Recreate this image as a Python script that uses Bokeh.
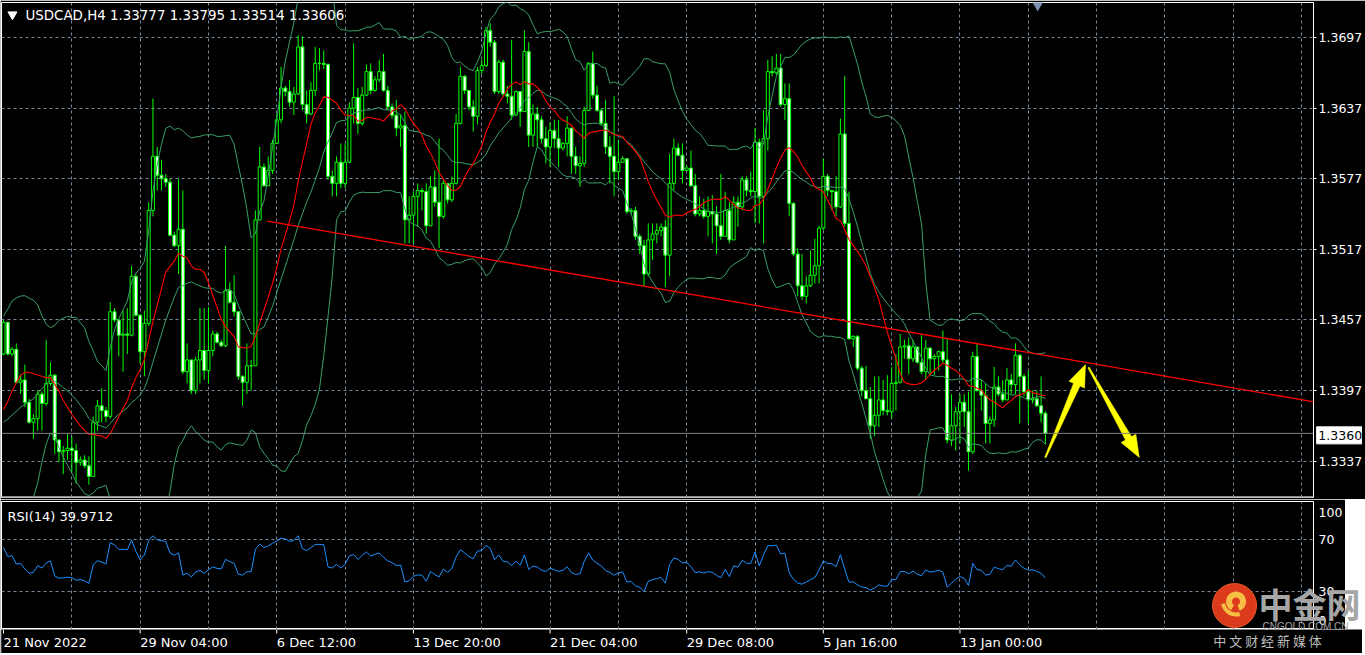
import math
import numpy as np
from bokeh.plotting import figure
from bokeh.models import (FixedTicker, PrintfTickFormatter, Span, Label, Grid,
                          ColumnDataSource, GridBox)
from bokeh.core.properties import value
from bokeh.embed import file_html
from bokeh.resources import INLINE

# ---------------- texts ----------------
title_text = "USDCAD,H4  1.33777 1.33795 1.33514 1.33606"
rsi_text = "RSI(14) 39.9712"
bid_price = 1.33606
bid_label = "1.3360"

price_ticks = [1.3337, 1.3397, 1.3457, 1.3517, 1.3577, 1.3637, 1.3697]
rsi_label_pos = [7.0, 30.0, 70.0, 91.4]          # where MT4 writes the scale labels
rsi_label_txt = ["0", "30", "70", "100"]
rsi_levels = [30, 70]
time_ticks = [0, 32, 64, 96, 128, 160, 192, 224]
time_labels = ["21 Nov 2022", "29 Nov 04:00", "6 Dec 12:00", "13 Dec 20:00",
               "21 Dec 04:00", "29 Dec 08:00", "5 Jan 16:00", "13 Jan 00:00"]
grid_ticks = [16, 32, 48, 64, 80, 96, 112, 128, 144, 160, 176, 192, 208, 224,
              240, 256, 272, 288, 304]

# ---------------- price data (H4 bars) ----------------
pre_close = [1.3372, 1.3380, 1.3360, 1.3345, 1.3330, 1.3340, 1.3320, 1.3330, 1.3310, 1.3300,
             1.3320, 1.3350, 1.3370, 1.3390, 1.3410, 1.3400, 1.3420, 1.3410, 1.3435, 1.3428]

close = [
    1.3455, 1.3428, 1.3432, 1.3404, 1.3406, 1.3387, 1.3370, 1.3373, 1.3394, 1.3386,
    1.3403, 1.3410, 1.3355, 1.3345, 1.3346, 1.3348, 1.3346, 1.3336, 1.3338, 1.3333,
    1.3324, 1.3370, 1.3384, 1.3380, 1.3375, 1.3464, 1.3457, 1.3444, 1.3445, 1.3444,
    1.3494, 1.3461, 1.3430, 1.3454, 1.3550, 1.3596, 1.3580, 1.3577, 1.3574, 1.3529,
    1.3520, 1.3534, 1.3413, 1.3423, 1.3397, 1.3423, 1.3431, 1.3414, 1.3431, 1.3445,
    1.3438, 1.3435, 1.3482, 1.3472, 1.3464, 1.3409, 1.3404, 1.3418, 1.3418, 1.3542,
    1.3587, 1.3571, 1.3584, 1.3607, 1.3627, 1.3654, 1.3651, 1.3642, 1.3649, 1.3689,
    1.3640, 1.3632, 1.3652, 1.3675, 1.3675, 1.3674, 1.3579, 1.3573, 1.3591, 1.3573,
    1.3591, 1.3637, 1.3646, 1.3624, 1.3648, 1.3668, 1.3652, 1.3661, 1.3668, 1.3652,
    1.3638, 1.3631, 1.3620, 1.3622, 1.3542, 1.3546, 1.3562, 1.3567, 1.3566, 1.3537,
    1.3570, 1.3557, 1.3545, 1.3573, 1.3559, 1.3573, 1.3624, 1.3664, 1.3652, 1.3638,
    1.3630, 1.3669, 1.3673, 1.3703, 1.3693, 1.3651, 1.3676, 1.3649, 1.3647, 1.3631,
    1.3651, 1.3634, 1.3685, 1.3614, 1.3632, 1.3627, 1.3611, 1.3604, 1.3618, 1.3611,
    1.3603, 1.3607, 1.3620, 1.3596, 1.3588, 1.3590, 1.3635, 1.3675, 1.3648, 1.3635,
    1.3624, 1.3604, 1.3596, 1.3583, 1.3591, 1.3594, 1.3549, 1.3550, 1.3528, 1.3520,
    1.3496, 1.3525, 1.3530, 1.3533, 1.3536, 1.3512, 1.3573, 1.3603, 1.3597, 1.3584,
    1.3586, 1.3571, 1.3547, 1.3550, 1.3545, 1.3549, 1.3547, 1.3537, 1.3528, 1.3550,
    1.3525, 1.3557, 1.3553, 1.3576, 1.3567, 1.3566, 1.3608, 1.3562, 1.3611, 1.3668,
    1.3667, 1.3671, 1.3640, 1.3645, 1.3556, 1.3513, 1.3486, 1.3477, 1.3486, 1.3495,
    1.3503, 1.3535, 1.3579, 1.3567, 1.3566, 1.3553, 1.3615, 1.3539, 1.3441, 1.3443,
    1.3416, 1.3397, 1.3390, 1.3367, 1.3376, 1.3389, 1.3380, 1.3379, 1.3403, 1.3404,
    1.3434, 1.3435, 1.3424, 1.3434, 1.3421, 1.3413, 1.3433, 1.3424, 1.3426, 1.3430,
    1.3423, 1.3355, 1.3367, 1.3379, 1.3387, 1.3379, 1.3345, 1.3426, 1.3397, 1.3393,
    1.3369, 1.3372, 1.3400, 1.3394, 1.3389, 1.3406, 1.3402, 1.3427, 1.3409, 1.3396,
    1.3389, 1.3390, 1.3384, 1.33777, 1.33606,
]

high = [
    1.3457, 1.3455, 1.3434, 1.3437, 1.3411, 1.3419, 1.3390, 1.3377, 1.3397, 1.3396,
    1.3440, 1.3421, 1.3411, 1.3355, 1.3350, 1.3360, 1.3358, 1.3352, 1.3341, 1.3342,
    1.3341, 1.3375, 1.3389, 1.3399, 1.3383, 1.3472, 1.3467, 1.3458, 1.3465, 1.3467,
    1.3503, 1.3496, 1.3462, 1.3465, 1.3557, 1.3645, 1.3604, 1.3593, 1.3581, 1.3577,
    1.3532, 1.3577, 1.3567, 1.3437, 1.3423, 1.3426, 1.3467, 1.3467, 1.3468, 1.3448,
    1.3447, 1.3440, 1.3520, 1.3489, 1.3495, 1.3464, 1.3410, 1.3437, 1.3423, 1.3550,
    1.3604, 1.3590, 1.3596, 1.3610, 1.3632, 1.3672, 1.3656, 1.3661, 1.3655, 1.3699,
    1.3698, 1.3652, 1.3659, 1.3689, 1.3688, 1.3686, 1.3675, 1.3584, 1.3596, 1.3607,
    1.3607, 1.3642, 1.3692, 1.3654, 1.3655, 1.3674, 1.3675, 1.3664, 1.3678, 1.3683,
    1.3656, 1.3641, 1.3644, 1.3632, 1.3634, 1.3562, 1.3566, 1.3573, 1.3569, 1.3573,
    1.3579, 1.3584, 1.3611, 1.3576, 1.3567, 1.3579, 1.3632, 1.3672, 1.3665, 1.3652,
    1.3644, 1.3672, 1.3678, 1.3706, 1.3709, 1.3695, 1.3678, 1.3678, 1.3656, 1.3695,
    1.3652, 1.3647, 1.3703, 1.3693, 1.3640, 1.3638, 1.3630, 1.3621, 1.3625, 1.3627,
    1.3627, 1.3608, 1.3630, 1.3607, 1.3604, 1.3596, 1.3638, 1.3676, 1.3685, 1.3656,
    1.3637, 1.3644, 1.3613, 1.3647, 1.3610, 1.3596, 1.3580, 1.3552, 1.3553, 1.3530,
    1.3525, 1.3539, 1.3539, 1.3539, 1.3539, 1.3542, 1.3598, 1.3611, 1.3607, 1.3607,
    1.3588, 1.3601, 1.3581, 1.3562, 1.3560, 1.3562, 1.3563, 1.3554, 1.3581, 1.3566,
    1.3557, 1.3562, 1.3562, 1.3579, 1.3579, 1.3583, 1.3620, 1.3611, 1.3635, 1.3678,
    1.3681, 1.3683, 1.3683, 1.3658, 1.3658, 1.3557, 1.3518, 1.3513, 1.3494, 1.3516,
    1.3526, 1.3537, 1.3594, 1.3581, 1.3567, 1.3579, 1.3628, 1.3664, 1.3566, 1.3444,
    1.3444, 1.3418, 1.3418, 1.3400, 1.3409, 1.3409, 1.3406, 1.3410, 1.3417, 1.3428,
    1.3445, 1.3440, 1.3442, 1.3440, 1.3434, 1.3444, 1.3440, 1.3434, 1.3428, 1.3431,
    1.3448, 1.3441, 1.3394, 1.3383, 1.3394, 1.3394, 1.3396, 1.3430, 1.3437, 1.3406,
    1.3403, 1.3375, 1.3417, 1.3409, 1.3406, 1.3416, 1.3411, 1.3437, 1.3428, 1.3411,
    1.3414, 1.3397, 1.3397, 1.3409, 1.33795,
]

low = [
    1.3427, 1.3427, 1.3426, 1.3403, 1.3394, 1.3383, 1.3369, 1.3356, 1.3363, 1.3363,
    1.3384, 1.3401, 1.3343, 1.3336, 1.3326, 1.3338, 1.3328, 1.3318, 1.3333, 1.3331,
    1.3317, 1.3324, 1.3363, 1.3370, 1.3370, 1.3373, 1.3455, 1.3426, 1.3413, 1.3428,
    1.3443, 1.3460, 1.3420, 1.3409, 1.3452, 1.3545, 1.3567, 1.3567, 1.3570, 1.3528,
    1.3519, 1.3496, 1.3411, 1.3403, 1.3394, 1.3394, 1.3403, 1.3406, 1.3403, 1.3426,
    1.3437, 1.3434, 1.3434, 1.3471, 1.3460, 1.3406, 1.3384, 1.3394, 1.3397, 1.3418,
    1.3567, 1.3570, 1.3577, 1.3581, 1.3607, 1.3624, 1.3647, 1.3638, 1.3631, 1.3648,
    1.3635, 1.3624, 1.3631, 1.3647, 1.3669, 1.3670, 1.3576, 1.3562, 1.3562, 1.3569,
    1.3569, 1.3590, 1.3624, 1.3615, 1.3622, 1.3647, 1.3649, 1.3651, 1.3659, 1.3651,
    1.3635, 1.3628, 1.3613, 1.3604, 1.3522, 1.3522, 1.3522, 1.3536, 1.3550, 1.3530,
    1.3539, 1.3553, 1.3518, 1.3543, 1.3556, 1.3557, 1.3572, 1.3623, 1.3649, 1.3635,
    1.3617, 1.3623, 1.3666, 1.3672, 1.3689, 1.3649, 1.3649, 1.3647, 1.3641, 1.3627,
    1.3630, 1.3621, 1.3635, 1.3604, 1.3604, 1.3604, 1.3607, 1.3590, 1.3587, 1.3603,
    1.3587, 1.3601, 1.3596, 1.3581, 1.3581, 1.3570, 1.3587, 1.3635, 1.3645, 1.3634,
    1.3622, 1.3598, 1.3573, 1.3562, 1.3576, 1.3593, 1.3547, 1.3546, 1.3525, 1.3513,
    1.3485, 1.3494, 1.3508, 1.3522, 1.3528, 1.3485, 1.3494, 1.3567, 1.3596, 1.3573,
    1.3584, 1.3570, 1.3545, 1.3545, 1.3543, 1.3528, 1.3522, 1.3513, 1.3525, 1.3528,
    1.3522, 1.3525, 1.3536, 1.3550, 1.3562, 1.3562, 1.3539, 1.3539, 1.3522, 1.3601,
    1.3664, 1.3665, 1.3638, 1.3627, 1.3545, 1.3511, 1.3477, 1.3474, 1.3471, 1.3485,
    1.3488, 1.3488, 1.3533, 1.3562, 1.3550, 1.3545, 1.3552, 1.3536, 1.3440, 1.3434,
    1.3414, 1.3392, 1.3390, 1.3356, 1.3358, 1.3366, 1.3376, 1.3376, 1.3373, 1.3380,
    1.3403, 1.3424, 1.3411, 1.3421, 1.3420, 1.3411, 1.3406, 1.3411, 1.3410, 1.3414,
    1.3420, 1.3352, 1.3350, 1.3346, 1.3352, 1.3366, 1.3329, 1.3343, 1.3396, 1.3380,
    1.3352, 1.3352, 1.3366, 1.3392, 1.3387, 1.3389, 1.3394, 1.3394, 1.3369, 1.3392,
    1.3369, 1.3386, 1.3383, 1.3370, 1.33514,
]

# drawn objects (trend line, two yellow arrows) in bar / price units
trend_x = [61.76, 320.0]
trend_y = [1.35409, 1.33792]
arrow_x0 = [244.0, 254.1]
arrow_y0 = [1.33401, 1.34166]
arrow_x1 = [253.4, 266.0]
arrow_y1 = [1.34191, 1.33401]

# watermark anchors (bar index, RSI units)
wm_circle = (288.06, 20.3)
wm_big = (293.7, 21.5)
wm_small = (294.6, 3.9)
wm_sub = (283.1, -7.4)

# ---------------- derived series ----------------
n = min(len(close), len(high), len(low))
close = close[:n]; high = high[:n]; low = low[:n]
opens = [pre_close[-1]] + close[:-1]
hi = [max(h, o, c) for h, o, c in zip(high, opens, close)]
lo = [min(l, o, c) for l, o, c in zip(low, opens, close)]
idx = list(range(n))

all_c = np.array(pre_close + close, dtype=float)
npre = len(pre_close)


def sma(a, k):
    out = np.full(len(a), np.nan)
    for i in range(k - 1, len(a)):
        out[i] = a[i - k + 1:i + 1].mean()
    return out


def rstd(a, k):
    out = np.full(len(a), np.nan)
    for i in range(k - 1, len(a)):
        out[i] = a[i - k + 1:i + 1].std()
    return out


def wilder_rsi(a, k=14):
    out = np.full(len(a), np.nan)
    d = np.diff(a)
    g = np.where(d > 0, d, 0.0)
    l = np.where(d < 0, -d, 0.0)
    ag, al = g[:k].mean(), l[:k].mean()
    out[k] = 100.0 if al == 0 else 100 - 100 / (1 + ag / al)
    for i in range(k + 1, len(a)):
        ag = (ag * (k - 1) + g[i - 1]) / k
        al = (al * (k - 1) + l[i - 1]) / k
        out[i] = 100.0 if al == 0 else 100 - 100 / (1 + ag / al)
    return out


mid20 = sma(all_c, 20)[npre:]
sd20 = rstd(all_c, 20)[npre:]
bb_up = mid20 + 2 * sd20
bb_dn = mid20 - 2 * sd20
ma14 = sma(all_c, 14)[npre:]
rsi_vals = wilder_rsi(all_c, 14)[npre:]

# ---------------- layout constants ----------------
FONT = "DejaVu Sans"
PXB = 4.27                      # px per bar
FW = 1312                       # frame width of both panels
FH, FHR = 495, 128              # frame heights
X0 = -0.468
X1 = X0 + FW / PXB
Y0, Y1 = 1.33061, 1.37267
KX = PXB
KY = FH / (Y1 - Y0)
KR = FHR / 100.0
MAIN_TOP, MAIN_BOT = 2, 2
RSI_TOP = 2
STRIP_H = 24
TOTAL_W = 1362
TOTAL_H = MAIN_TOP + FH + MAIN_BOT + RSI_TOP + FHR + STRIP_H
GRID_C = "#778899"
LIME = "#00FF00"
BB_C = "#3A9F68"

main = figure(frame_width=FW, frame_height=FH, x_range=(X0, X1), y_range=(Y0, Y1),
              x_axis_location=None, y_axis_location="right",
              output_backend="svg", toolbar_location=None,
              min_border_left=1, min_border_right=0,
              min_border_top=MAIN_TOP, min_border_bottom=MAIN_BOT)
rsi = figure(frame_width=FW, frame_height=FHR, x_range=main.x_range, y_range=(0, 100),
             x_axis_location=None, y_axis_location="right",
             output_backend="svg", toolbar_location=None,
             min_border_left=1, min_border_right=0, min_border_top=RSI_TOP, min_border_bottom=0)

for p in (main, rsi):
    p.background_fill_color = "black"
    p.border_fill_color = "black"
    p.outline_line_color = "white"
    p.outline_line_width = 1
    ax = p.yaxis[0]
    ax.axis_line_color = None
    ax.major_tick_line_color = "white"
    ax.major_tick_out = 3
    ax.major_tick_in = 0
    ax.minor_tick_line_color = None
    ax.major_label_text_color = "white"
    ax.major_label_text_font = FONT
    ax.major_label_text_font_size = "12.5px"
    ax.major_label_standoff = 2

main.yaxis[0].ticker = FixedTicker(ticks=price_ticks)
main.yaxis[0].formatter = PrintfTickFormatter(format="%.4f")
rsi.yaxis[0].ticker = FixedTicker(ticks=rsi_label_pos)
rsi.yaxis[0].major_label_overrides = dict(zip(rsi_label_pos, rsi_label_txt))
rsi.yaxis[0].major_tick_line_color = None


def set_xgrid(p):
    gs = list(p.xgrid)
    if gs:
        for g in gs:
            g.ticker = FixedTicker(ticks=grid_ticks)
    else:
        p.add_layout(Grid(dimension=0, ticker=FixedTicker(ticks=grid_ticks)))


set_xgrid(main)
set_xgrid(rsi)
for g in main.ygrid:
    g.ticker = FixedTicker(ticks=price_ticks)
for g in rsi.ygrid:
    g.ticker = FixedTicker(ticks=rsi_levels)
for p in (main, rsi):
    for g in list(p.xgrid) + list(p.ygrid):
        g.grid_line_color = GRID_C
        g.grid_line_dash = "3 3"
        g.grid_line_width = 1

# ---------------- main panel ----------------
src = ColumnDataSource(dict(
    x=idx, h=hi, l=lo,
    top=[max(o, c) for o, c in zip(opens, close)],
    bot=[min(o, c) for o, c in zip(opens, close)],
    fill=["white" if c < o else "black" for o, c in zip(opens, close)],
))
main.segment(x0="x", y0="h", x1="x", y1="l", source=src, line_color=LIME, line_width=1)
main.vbar(x="x", top="top", bottom="bot", width=0.7, source=src,
          fill_color="fill", line_color=LIME, line_width=1)

main.line(idx, bb_up, line_color=BB_C, line_width=1)
main.line(idx, mid20, line_color=BB_C, line_width=1)
main.line(idx, bb_dn, line_color=BB_C, line_width=1)
main.line(idx, ma14, line_color="#FF0000", line_width=1.1)
main.line(trend_x, trend_y, line_color="#FF0000", line_width=1.3)

main.add_layout(Span(location=bid_price, dimension="width", line_color="#808080", line_width=1))
main.add_layout(Span(location=Y0, dimension="width", line_color="#8A8A8A", line_width=3))


def arrow_poly(x0, y0, x1, y1, head_len=22.0, head_half=8.5, shaft_half=3.5, tail_half=0.7):
    ax_, ay_ = x0 * KX, y0 * KY
    bx_, by_ = x1 * KX, y1 * KY
    dx, dy = bx_ - ax_, by_ - ay_
    L = math.hypot(dx, dy)
    ux, uy = dx / L, dy / L
    nx, ny = -uy, ux
    cx, cy = bx_ - ux * head_len, by_ - uy * head_len
    pts = [(ax_ + nx * tail_half, ay_ + ny * tail_half),
           (cx + nx * shaft_half, cy + ny * shaft_half),
           (cx + nx * head_half, cy + ny * head_half),
           (bx_, by_),
           (cx - nx * head_half, cy - ny * head_half),
           (cx - nx * shaft_half, cy - ny * shaft_half),
           (ax_ - nx * tail_half, ay_ - ny * tail_half)]
    return [q[0] / KX for q in pts], [q[1] / KY for q in pts]


axs, ays = [], []
for a0, b0, a1, b1 in zip(arrow_x0, arrow_y0, arrow_x1, arrow_y1):
    px_, py_ = arrow_poly(a0, b0, a1, b1)
    axs.append(px_)
    ays.append(py_)
main.patches(axs, ays, fill_color="#FFFF00", line_color="#FFFF00", line_width=0.5)

main.scatter([2.1], [1.37165], marker="inverted_triangle", size=9, fill_color="white", line_color="white")
main.scatter([242.2], [1.37250], marker="inverted_triangle", size=12, fill_color="#7D8FAD", line_color=None)
main.add_layout(Label(x=5.15, y=1.37157, text=title_text, text_color="white", text_font=FONT,
                      text_font_size="13.4px", text_baseline="middle", text_align="left"))

# ---------------- RSI panel ----------------
rsi.line(idx, rsi_vals, line_color="#1E90FF", line_width=1)
rsi.add_layout(Label(x=0.94, y=88.3, text=rsi_text, text_color="white", text_font=FONT,
                     text_font_size="13px", text_baseline="middle", text_align="left"))

# ---------------- time scale strip ----------------
strip = figure(frame_width=TOTAL_W - 1, frame_height=STRIP_H,
               x_range=(X0, X0 + (TOTAL_W - 1) / PXB), y_range=(0, STRIP_H),
               x_axis_location=None, y_axis_location=None,
               output_backend="svg", toolbar_location=None,
               min_border_left=1, min_border_right=0, min_border_top=0, min_border_bottom=0)
strip.background_fill_color = "black"
strip.border_fill_color = "black"
strip.outline_line_color = None
strip.grid.visible = False
strip.segment(x0=time_ticks, y0=[STRIP_H] * len(time_ticks), x1=time_ticks,
              y1=[STRIP_H - 4] * len(time_ticks), line_color="white", line_width=1)
strip.text(x=time_ticks, y=[STRIP_H - 5] * len(time_ticks), text=time_labels,
           text_color="white", text_font=value(FONT), text_font_size="13px",
           text_baseline="top", text_align="left")

# ---------------- transparent overlay (price tag + watermark) ----------------
XO0 = -3.0 / PXB
PT = Y1 + MAIN_TOP / KY                     # price at the very top of the page
RSI_FRAME_TOP = MAIN_TOP + FH + MAIN_BOT + RSI_TOP


def rsi_to_overlay(v):
    ypage = RSI_FRAME_TOP + (100.0 - v) * KR
    return PT - ypage / KY


over = figure(frame_width=TOTAL_W, frame_height=TOTAL_H,
              x_range=(XO0, XO0 + TOTAL_W / PXB), y_range=(PT - TOTAL_H / KY, PT),
              x_axis_location=None, y_axis_location=None,
              output_backend="svg", toolbar_location=None,
              min_border_left=0, min_border_right=0, min_border_top=0, min_border_bottom=0)
over.background_fill_color = None
over.border_fill_color = None
over.outline_line_color = None
over.grid.visible = False

tag_left = X1 + 0.5
tag_right = XO0 + TOTAL_W / PXB
over.rect(x=[(tag_left + tag_right) / 2], y=[bid_price], width=[tag_right - tag_left],
          height=[17 / KY], fill_color="white", line_color="white")
over.text(x=[tag_left + 0.4], y=[bid_price], text=[bid_label], text_color="black",
          text_font=value(FONT), text_font_size="12.5px", text_baseline="middle", text_align="left")

cx, cy = wm_circle[0], rsi_to_overlay(wm_circle[1])
over.scatter([cx], [cy], marker="circle", size=44, fill_color="#DC3A1C", line_color="#E85A28")
over.annular_wedge(x=[cx + 1.5 / KX], y=[cy + 4 / KY], inner_radius=4, outer_radius=10,
                   inner_radius_units="screen", outer_radius_units="screen",
                   start_angle=-1.2, end_angle=4.2, fill_color="#F6BE45", line_color=None)
over.annular_wedge(x=[cx + 1.5 / KX], y=[cy + 4 / KY], inner_radius=11, outer_radius=15,
                   inner_radius_units="screen", outer_radius_units="screen",
                   start_angle=3.3, end_angle=5.0, fill_color="#F6BE45", line_color=None)
over.text(x=[wm_big[0]], y=[rsi_to_overlay(wm_big[1])], text=["中金网"], text_color="#A6A6A6",
          text_font=value("Noto Sans CJK SC"), text_font_style="bold", text_font_size="34px",
          text_baseline="middle", text_align="left")
over.text(x=[wm_small[0]], y=[rsi_to_overlay(wm_small[1])], text=["CNGOLD.COM.CN"],
          text_color="#A6A6A6", text_font=value("Liberation Sans"), text_font_size="10px",
          text_baseline="middle", text_align="left")
over.text(x=[wm_sub[0]], y=[rsi_to_overlay(wm_sub[1])], text=["中  文  财  经  新  媒  体"],
          text_color="#BDBDBD", text_font=value("Noto Sans CJK SC"), text_font_size="13px",
          text_baseline="middle", text_align="left")

layout = GridBox(children=[(main, 0, 0), (rsi, 1, 0), (strip, 2, 0), (over, 0, 0, 3, 1)])

open("out.html", "w").write(file_html(layout, INLINE))
